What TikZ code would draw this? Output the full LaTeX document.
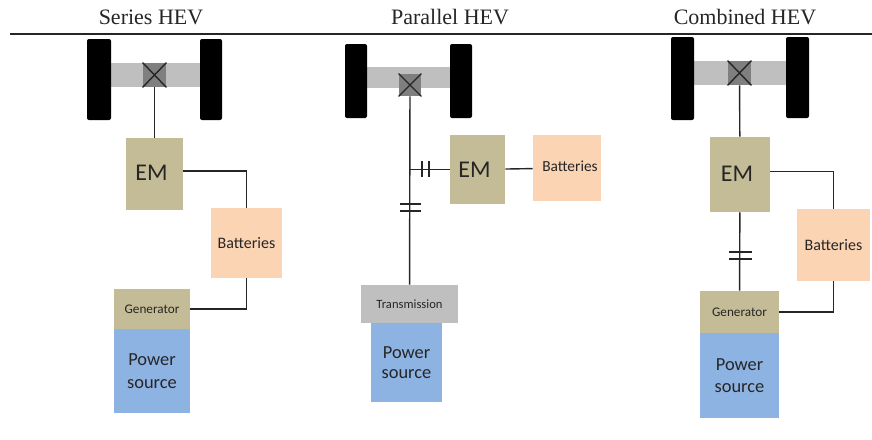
\documentclass[tikz,border=0pt]{standalone}
\usepackage{fontspec}
\setmainfont{Carlito}
\newfontfamily\titlefont{Liberation Serif}
\definecolor{emtan}{HTML}{C4BC96}
\definecolor{batpeach}{HTML}{FBD4B4}
\definecolor{powblue}{HTML}{8DB3E2}
\definecolor{axlegrey}{HTML}{BFBFBF}
\definecolor{diffgrey}{HTML}{7F7F7F}
\tikzset{
  block/.style={inner sep=0pt, align=center, text=black!85},
  wheel/.style={block, fill=black, rounded corners=1pt},
  axle/.style={block, fill=axlegrey},
  diffbox/.style={block, fill=diffgrey},
  emblock/.style={block, fill=emtan, font=\fontsize{12}{14}\selectfont, execute at end node={\hspace*{3pt}}},
  genblock/.style={block, fill=emtan, font=\fontsize{6.6}{8}\selectfont},
  transblock/.style={block, fill=axlegrey, font=\fontsize{6.3}{8}\selectfont},
  batblock/.style={block, fill=batpeach, font=\fontsize{8}{10}\selectfont},
  powblock/.style={block, fill=powblue, font=\fontsize{9.2}{11.2}\selectfont},
  wire/.style={line width=0.7pt, black!85},
  title/.style={font=\titlefont\fontsize{11}{13}\selectfont, text=black!85}
}
\begin{document}
\begin{tikzpicture}[x=0.5pt,y=-0.5pt]
  \useasboundingbox (0,0) rectangle (872,439);

  \node[title] (seriesT) at (151,17) {Series HEV};
  \node[title] (parT) at (450,17) {Parallel HEV};
  \node[title] (combT) at (745,17) {Combined HEV};
  \coordinate (ruleL) at (10,34);
  \coordinate (ruleR) at (872,34);
  \draw[wire] (ruleL) -- (ruleR);

  % series
  \node[axle, minimum width=45pt, minimum height=12pt] (seriesA) at (155,75) {};
  \node[wheel, minimum width=12pt, minimum height=40.5pt] (seriesWL) at (99,79.5) {};
  \node[wheel, minimum width=11pt, minimum height=40.5pt] (seriesWR) at (211,79.5) {};
  \node[diffbox, minimum width=11.5pt, minimum height=12pt] (seriesD) at (154.5,75) {};
  \draw[wire] (seriesD.north west) -- (seriesD.south east) (seriesD.north east) -- (seriesD.south west);
  \node[emblock, minimum width=28.5pt, minimum height=36pt] (seriesEM) at (154.5,174) {\raisebox{1pt}{EM}};
  \node[batblock, minimum width=35.5pt, minimum height=35pt] (seriesB) at (246.5,243) {Batteries};
  \node[genblock, minimum width=38pt, minimum height=20pt] (seriesG) at (152,309) {Generator};
  \node[powblock, minimum width=38pt, minimum height=42pt] (seriesP) at (152,371) {Power\\source};
  \draw[wire] (seriesD) -- (seriesEM);
  \draw[wire] ([yshift=1.5pt]seriesEM.east) -| (seriesB.north);
  \draw[wire] (seriesB.south) |- (seriesG.east);

  % parallel
  \node[axle, minimum width=41.5pt, minimum height=10.5pt] (parA) at (408.5,77.5) {};
  \node[wheel, minimum width=11pt, minimum height=37pt] (parWL) at (356,81) {};
  \node[wheel, minimum width=11pt, minimum height=37pt] (parWR) at (461,81) {};
  \node[diffbox, minimum width=11pt, minimum height=11pt] (parD) at (410,85) {};
  \draw[wire] (parD.north west) -- (parD.south east) (parD.north east) -- (parD.south west);
  \node[emblock, minimum width=27.5pt, minimum height=34.5pt] (parEM) at (477.5,169.5) {EM};
  \node[batblock, font=\fontsize{7.7}{9}\selectfont, minimum width=34pt, minimum height=33pt] (parB) at (567,168) {\hspace*{3pt}\raisebox{2pt}{Batteries}};
  \node[transblock, minimum width=48.5pt, minimum height=19pt] (parTr) at (409.5,304) {Transmission};
  \node[powblock, font=\fontsize{9.2}{10.2}\selectfont, minimum width=35.5pt, minimum height=39.5pt] (parP) at (406.5,362.5) {Power\\source};
  \coordinate (parJ) at (410,169.5);
  \draw[wire] (parD) -- (parTr);
  \draw[wire] (parJ) -- (parEM);
  \draw[wire] (parEM) -- (parB);
  \coordinate (parC1a) at (422,161); \coordinate (parC1b) at (422,177);
  \coordinate (parC2a) at (429,161); \coordinate (parC2b) at (429,177);
  \draw[wire] (parC1a) -- (parC1b) (parC2a) -- (parC2b);
  \coordinate (parC3a) at (400,204); \coordinate (parC3b) at (421,204);
  \coordinate (parC4a) at (400,211); \coordinate (parC4b) at (421,211);
  \draw[wire] (parC3a) -- (parC3b) (parC4a) -- (parC4b);

  % combined
  \node[axle, minimum width=46pt, minimum height=12pt] (combA) at (740,73) {};
  \node[wheel, minimum width=11.5pt, minimum height=41.5pt] (combWL) at (682.5,78.5) {};
  \node[wheel, minimum width=11.5pt, minimum height=40.5pt] (combWR) at (797.5,77.5) {};
  \node[diffbox, minimum width=11.5pt, minimum height=12pt] (combD) at (739.5,73) {};
  \draw[wire] (combD.north west) -- (combD.south east) (combD.north east) -- (combD.south west);
  \node[emblock, minimum width=30pt, minimum height=37.5pt] (combEM) at (740,174.5) {\raisebox{1pt}{EM}};
  \node[batblock, minimum width=36.5pt, minimum height=36pt] (combB) at (833.5,245) {Batteries};
  \node[genblock, minimum width=39.5pt, minimum height=21pt] (combG) at (739.5,312) {Generator};
  \node[powblock, minimum width=39.5pt, minimum height=42.5pt] (combP) at (739.5,375.5) {Power\\source};
  \draw[wire] (combD) -- (combEM);
  \draw[wire] (combEM) -- (combG);
  \draw[wire] ([yshift=1.5pt]combEM.east) -| (combB.north);
  \draw[wire] (combB.south) |- (combG.east);
  \coordinate (combC1a) at (729,252); \coordinate (combC1b) at (752,252);
  \coordinate (combC2a) at (729,259); \coordinate (combC2b) at (752,259);
  \draw[wire] (combC1a) -- (combC1b) (combC2a) -- (combC2b);
\end{tikzpicture}
\end{document}
